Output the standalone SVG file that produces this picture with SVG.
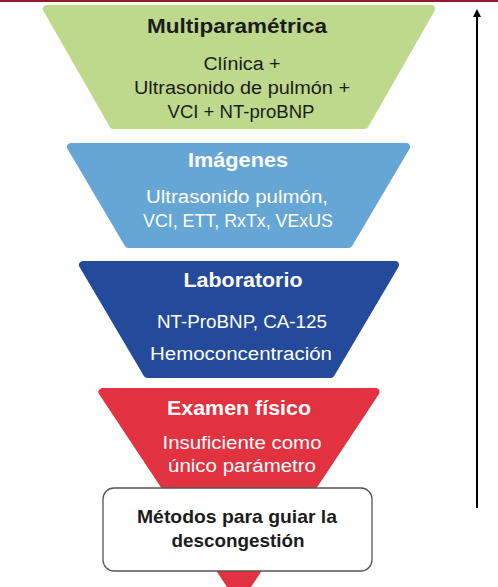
<svg xmlns="http://www.w3.org/2000/svg" width="498" height="587" viewBox="0 0 498 587">
<defs>
<marker id="ah" markerWidth="8" markerHeight="8" refX="4" refY="4" orient="auto" markerUnits="userSpaceOnUse">
<path d="M0,0 L8,4 L0,8 Z" fill="#000"/>
</marker>
<style>
.t{font-family:"Liberation Sans",Arial,sans-serif;text-anchor:middle}
.h{font-size:20px;font-weight:bold}
.b{font-size:18px}
.dk{fill:#1c1c1c}
.wt{fill:#ffffff}
.shape{stroke-width:8;stroke-linejoin:round}
</style>
</defs>
<rect x="0" y="0" width="498" height="587" fill="#ffffff"/>
<line x1="0" y1="1" x2="498" y2="1" stroke="#8e1c2c" stroke-width="2"/>
<g id="node-multiparametrica">
<polygon class="shape" points="46.9,9 431.1,9 364.7,125 113.3,125" fill="#bfd98c" stroke="#bfd98c"/>
<text class="t h dk" x="237" y="33" textLength="180" lengthAdjust="spacingAndGlyphs">Multiparamétrica</text>
<text class="t b dk" x="242" y="70" textLength="77" lengthAdjust="spacingAndGlyphs">Clínica +</text>
<text class="t b dk" x="242" y="94" textLength="216" lengthAdjust="spacingAndGlyphs">Ultrasonido de pulmón +</text>
<text class="t b dk" x="241" y="118" textLength="147" lengthAdjust="spacingAndGlyphs">VCI + NT-proBNP</text>
</g>
<g id="node-imagenes">
<polygon class="shape" points="71,147 406,147 348.7,244 128.3,244" fill="#66a6d5" stroke="#66a6d5"/>
<text class="t h wt" x="238" y="167" textLength="100" lengthAdjust="spacingAndGlyphs">Imágenes</text>
<text class="t b wt" x="237" y="203" textLength="182" lengthAdjust="spacingAndGlyphs">Ultrasonido pulmón,</text>
<text class="t b wt" x="238" y="227" textLength="190" lengthAdjust="spacingAndGlyphs">VCI, ETT, RxTx, VExUS</text>
</g>
<g id="node-laboratorio">
<polygon class="shape" points="83,265 395,265 330.7,374 147.3,374" fill="#244a9b" stroke="#244a9b"/>
<text class="t h wt" x="243" y="287" textLength="119" lengthAdjust="spacingAndGlyphs">Laboratorio</text>
<text class="t b wt" x="242" y="328" textLength="170" lengthAdjust="spacingAndGlyphs">NT-ProBNP, CA-125</text>
<text class="t b wt" x="241" y="360" textLength="182" lengthAdjust="spacingAndGlyphs">Hemoconcentración</text>
</g>
<g id="node-examen">
<polygon class="shape" points="102.5,392 375.5,392 239,597.8" fill="#e2313f" stroke="#e2313f"/>
<text class="t h wt" x="239" y="415" textLength="144" lengthAdjust="spacingAndGlyphs">Examen físico</text>
<text class="t b wt" x="242" y="449" textLength="159" lengthAdjust="spacingAndGlyphs">Insuficiente como</text>
<text class="t b wt" x="242" y="472" textLength="148" lengthAdjust="spacingAndGlyphs">único parámetro</text>
</g>
<g id="node-metodos">
<rect x="103" y="488" width="269" height="83" rx="11" ry="11" fill="#ffffff" stroke="#555555" stroke-width="1.3"/>
<text class="t dk" x="237" y="523" font-size="19" font-weight="bold" textLength="200" lengthAdjust="spacingAndGlyphs">Métodos para guiar la</text>
<text class="t dk" x="238" y="547" font-size="19" font-weight="bold" textLength="133" lengthAdjust="spacingAndGlyphs">descongestión</text>
</g>
<g id="connectors">
<line x1="477" y1="508" x2="477" y2="13" stroke="#000" stroke-width="2" marker-end="url(#ah)"/>
</g>
</svg>
